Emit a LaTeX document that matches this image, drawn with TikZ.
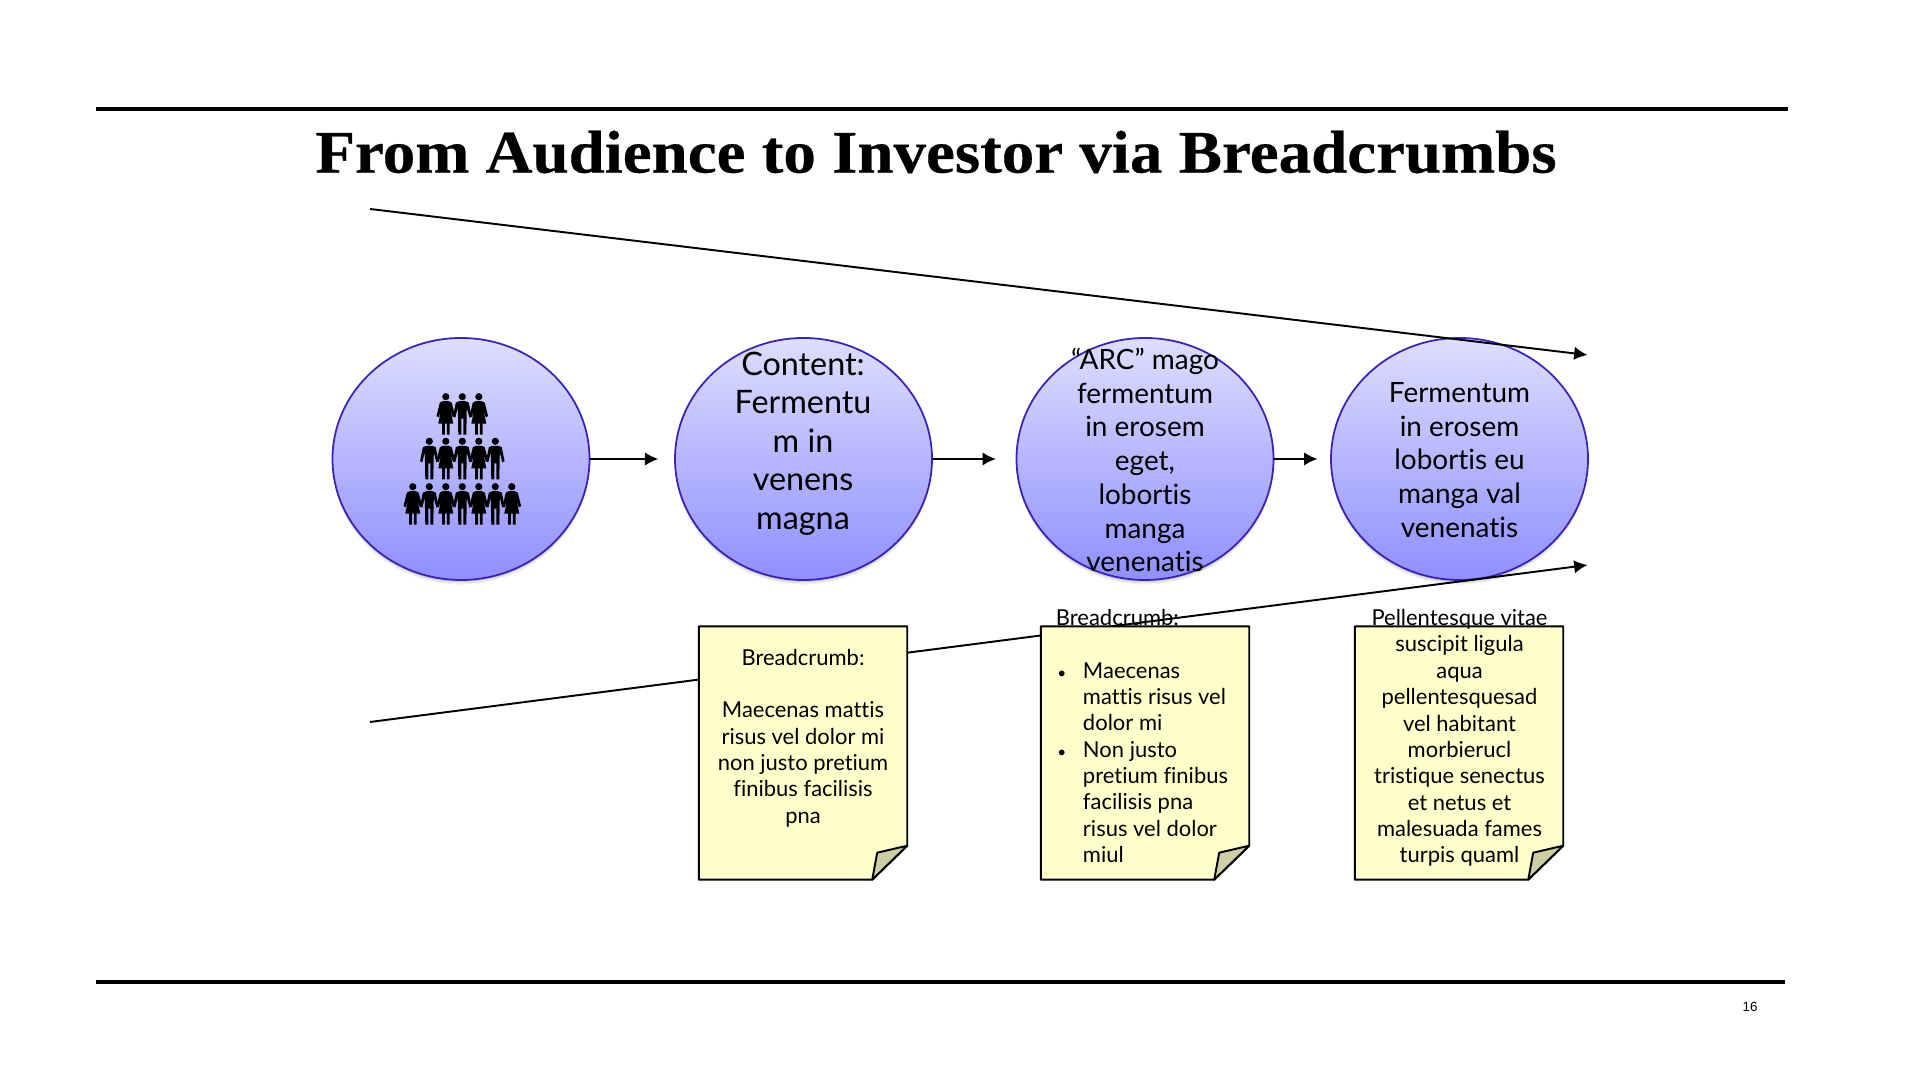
\documentclass[tikz,border=0pt]{standalone}
\usepackage{fontspec}
\setmainfont[Ligatures=NoCommon]{Lato}
\newfontfamily\titlefont[FakeStretch=1.075,BoldFeatures={FakeBold=0.4}]{Liberation Serif}
\newfontfamily\pagefont{Liberation Sans}
\usetikzlibrary{arrows.meta,shapes.geometric,shadows}
\definecolor{ringblue}{HTML}{3A22B5}
\definecolor{shadetop}{HTML}{DEDEFF}
\definecolor{shadebot}{HTML}{8F8FFF}
\definecolor{notefill}{HTML}{FFFFCC}
\definecolor{foldfill}{HTML}{CDCDA6}
\tikzset{
  stage/.style={ellipse,draw=ringblue,line width=.5pt,top color=shadetop,bottom color=shadebot,
    minimum width=2.57cm,minimum height=2.42cm,inner sep=0pt,
    drop shadow={shadow xshift=0pt,shadow yshift=-1.3pt,fill=black,opacity=.05},
    drop shadow={shadow xshift=0pt,shadow yshift=-.9pt,fill=black,opacity=.07},
    drop shadow={shadow xshift=0pt,shadow yshift=-.5pt,fill=black,opacity=.1}},
  bigtext/.style={align=center,font=\fontsize{9.2}{10.95}\selectfont},
  midtext/.style={align=center,font=\fontsize{7.95}{9.6}\selectfont},
  notetext/.style={align=center,font=\fontsize{6.25}{7.5}\selectfont},
  notebox/.style={minimum width=2.07cm,minimum height=2.52cm,inner sep=0pt},
  flow/.style={->,line width=.55pt},
  rule/.style={line width=1.1pt},
  man/.pic={\fill[x=.01cm,y=-.01cm] (0,0) circle (3.6)
    (-3,4.5) -- (3,4.5) -- (6.5,6) -- (9.3,20) -- (7,21) -- (4.5,11) -- (4,38) -- (1,38) -- (1,22) -- (-1,22)
    -- (-1,38) -- (-4,38) -- (-4.5,11) -- (-7,21) -- (-9.3,20) -- (-6.5,6) -- cycle;},
  woman/.pic={\fill[x=.01cm,y=-.01cm] (0,0) circle (3.6)
    (-3,4.5) -- (3,4.5) -- (6,6) -- (9.3,19.5) -- (7,20.5) -- (4.5,12) -- (7.5,27) -- (3.7,27) -- (3.7,38) -- (1,38)
    -- (1,27) -- (-1,27) -- (-1,38) -- (-3.7,38) -- (-3.7,27) -- (-7.5,27) -- (-4.5,12) -- (-7,20.5) -- (-9.3,19.5) -- (-6,6) -- cycle;}
}
\newcommand{\notepaper}[1]{
  \draw[fill=notefill,line width=.55pt,line join=round] (#1.north west) -- (#1.north east) -- ([yshift=.34cm]#1.south east)
    -- ([xshift=-.35cm]#1.south east) -- (#1.south west) -- cycle;
  \draw[fill=foldfill,line width=.55pt,line join=round] ([xshift=-.35cm]#1.south east) -- ([xshift=-.30cm,yshift=.27cm]#1.south east)
    -- ([yshift=.34cm]#1.south east) -- cycle;
}
\newcommand{\notebullet}{\makebox[7.7pt][l]{\hspace{.4pt}\scalebox{.7}{•}}}
\begin{document}
\begin{tikzpicture}[>={Latex[length=3.8pt,width=3.8pt]}]
        \useasboundingbox (0,0) rectangle (19.2,10.8);
        \coordinate (ruleAL) at (0.96,9.71);
        \coordinate (ruleAR) at (17.88,9.71);
        \coordinate (ruleBL) at (0.96,0.98);
        \coordinate (ruleBR) at (17.845,0.98);
        \draw[rule] (ruleAL) -- (ruleAR);
        \draw[rule] (ruleBL) -- (ruleBR);
        \node[font=\titlefont\bfseries\fontsize{17.2}{20}\selectfont] (title) at (9.36,9.28) {From Audience to Investor via Breadcrumbs};
        \node[font=\pagefont\fontsize{3.8}{4.5}\selectfont] (pagenum) at (17.5,0.73) {16};
        % the four stages
        \node[stage] (audience) at (4.61,6.21) {};
        \node[stage] (content) at (8.035,6.21) {};
        \node[stage] (arc) at (11.45,6.21) {};
        \node[stage] (ferment) at (14.595,6.21) {};
        \node[bigtext] (contentT) at (8.03,6.365) {Content:\\Fermentu\\m in\\venens\\magna};
        \node[midtext] (arcT) at (11.45,6.2) {“ARC” mago\\fermentum\\in erosem\\eget,\\lobortis\\manga\\venenatis};
        \node[midtext] (fermentT) at (14.595,6.2) {Fermentum\\in erosem\\lobortis eu\\manga val\\venenatis};
        \pic at (4.458,6.833) {woman};
        \pic at (4.623,6.833) {man};
        \pic at (4.788,6.833) {woman};
        \pic at (4.293,6.387) {man};
        \pic at (4.458,6.387) {woman};
        \pic at (4.623,6.387) {man};
        \pic at (4.788,6.387) {woman};
        \pic at (4.953,6.387) {man};
        \pic at (4.128,5.933) {woman};
        \pic at (4.293,5.933) {man};
        \pic at (4.458,5.933) {woman};
        \pic at (4.623,5.933) {man};
        \pic at (4.788,5.933) {woman};
        \pic at (4.953,5.933) {man};
        \pic at (5.118,5.933) {woman};
        \draw[flow,shorten >=4.5pt] (audience) -- (content);
        \draw[flow,shorten >=5.6pt] (content) -- (arc);
        \draw[flow,shorten >=3.6pt] (arc) -- (ferment);
        % funnel lines
        \coordinate (topL) at (3.7,8.71);
        \coordinate (topR) at (15.875,7.25);
        \coordinate (botL) at (3.7,3.58);
        \coordinate (botR) at (15.875,5.15);
        \draw[flow] (topL) -- (topR);
        \draw[flow] (botL) -- (botR);
        % the notes
        \node[notebox] (note1) at (8.03,3.27) {};
        \node[notebox] (note2) at (11.45,3.27) {};
        \node[notebox] (note3) at (14.59,3.27) {};
        \notepaper{note1}
        \notepaper{note2}
        \notepaper{note3}
        \node[notetext] (note1T) at (8.03,3.42) {Breadcrumb:\\ \mbox{}\\Maecenas mattis\\risus vel dolor mi\\non justo pretium\\finibus facilisis\\pna};
        \node[notetext,align=left,anchor=west] (note2T) at (10.435,3.44) {Breadcrumb:\\ \mbox{}\\\notebullet Maecenas\\\hspace*{7.7pt}mattis risus vel\\\hspace*{7.7pt}dolor mi\\\notebullet Non justo\\\hspace*{7.7pt}pretium finibus\\\hspace*{7.7pt}facilisis pna\\\hspace*{7.7pt}risus vel dolor\\\hspace*{7.7pt}miul};
        \node[notetext] (note3T) at (14.595,3.42) {Pellentesque vitae\\suscipit ligula\\aqua\\pellentesquesad\\vel habitant\\morbierucl\\tristique senectus\\et netus et\\malesuada fames\\turpis quaml};
\end{tikzpicture}
\end{document}
